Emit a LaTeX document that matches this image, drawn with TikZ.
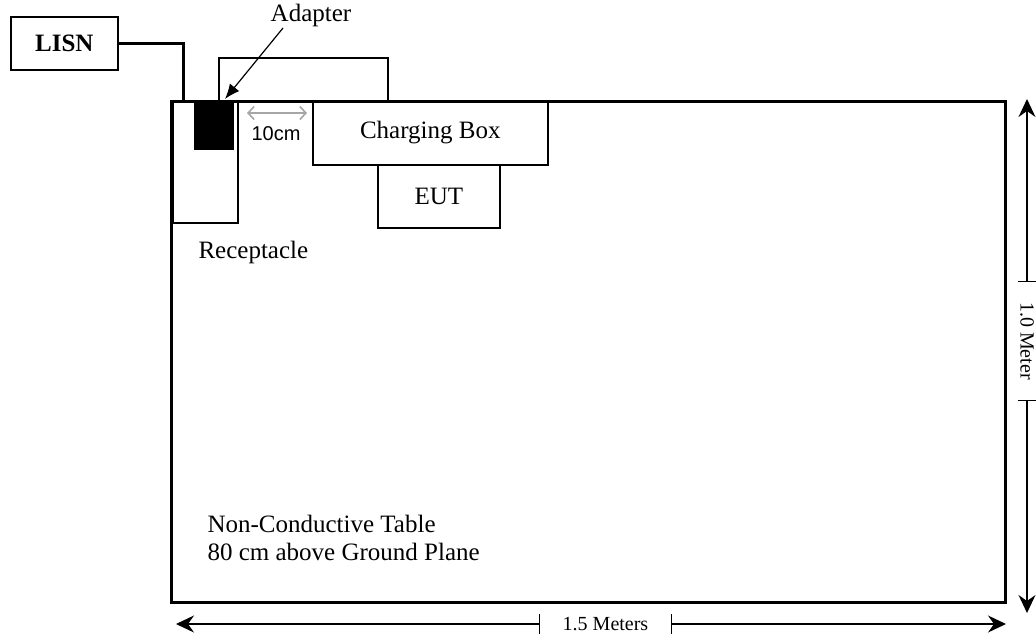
\documentclass[tikz,border=0pt]{standalone}
\usepackage{fontspec}
\setmainfont{Liberation Serif}
\newfontfamily\arialish{Liberation Sans}
\usetikzlibrary{arrows.meta}
\tikzset{
  big/.style={font=\fontsize{25}{28}\selectfont},
  small/.style={font=\fontsize{20}{24}\selectfont},
  box/.style={draw, line width=1.6pt, inner sep=0pt, anchor=north west},
  tablebox/.style={draw, line width=3pt, inner sep=0pt, anchor=north west},
  cable/.style={line width=3pt},
  ptr/.style={line width=1.2pt, -{Latex[length=15pt,width=12pt]}},
  gap/.style={draw=black!35, line width=1.6pt, {Straight Barb[length=6pt,width=13pt]}-{Straight Barb[length=6pt,width=13pt]}},
  dim/.style={line width=1.2pt, -{Stealth[length=18pt,width=17pt,inset=6pt]}},
  tick/.style={line width=1.2pt}
}
\begin{document}
\begin{tikzpicture}[x=1pt,y=-1pt]
\useasboundingbox (0,0) rectangle (1036,640);
% upper outline box above the table
\node[box, minimum width=169pt, minimum height=43pt] (upper) at (218,57) {};
% table
\node[tablebox, minimum width=834pt, minimum height=501pt] (table) at (170,100) {};
% LISN
\node[box, big, minimum width=107pt, minimum height=53pt] (lisn) at (10,16) {\bfseries LISN};
\coordinate (cableend) at (183,100);
\draw[cable] (lisn.east) -| (cableend);
% receptacle and adapter
\node[box, minimum width=65pt, minimum height=122pt] (recept) at (172,100) {};
\node[box, fill=black, minimum width=38pt, minimum height=48pt] (adapter) at (194,100) {};
% charging box and EUT
\node[box, big, minimum width=235pt, minimum height=64pt] (charge) at (312,100) {Charging Box};
\node[box, big, minimum width=122pt, minimum height=63pt] (eut) at (377,164) {EUT};
% labels
\node[big, anchor=base] (adlabel) at (311,21) {Adapter};
\coordinate (adstart) at (283,28);
\coordinate (adtip) at (225,99);
\draw[ptr] (adstart) -- (adtip);
\node[big, anchor=base west] (receptlabel) at (195,258) {Receptacle};
\coordinate (gapL) at (247,113);
\coordinate (gapR) at (307,113);
\draw[gap] (gapL) -- (gapR);
\node[font=\arialish\fontsize{20}{24}\selectfont] (gaplabel) at (276,134) {10cm};
\node[big, anchor=base west] (tabletext1) at (204,532) {Non-Conductive Table};
\node[big, anchor=base west] (tabletext2) at (204,560) {80 cm above Ground Plane};
% horizontal dimension
\node[small, inner sep=0pt, minimum width=131pt, minimum height=20pt] (hlabel) at (605.5,624) {1.5 Meters};
\coordinate (hL) at (176,624);
\coordinate (hR) at (1006,624);
\draw[dim] (hlabel.west) -- (hL);
\draw[dim] (hlabel.east) -- (hR);
\draw[tick] ([yshift=-10pt]hlabel.west) -- ([yshift=10pt]hlabel.west);
\draw[tick] ([yshift=-10pt]hlabel.east) -- ([yshift=10pt]hlabel.east);
% vertical dimension
\node[small, rotate=-90, inner sep=0pt, minimum width=118pt, minimum height=20pt] (vlabel) at (1027,341) {1.0 Meter};
\coordinate (vT) at (1027,99);
\coordinate (vB) at (1027,613);
\draw[dim] (vlabel.west) -- (vT);
\draw[dim] (vlabel.east) -- (vB);
\draw[tick] ([xshift=-9pt]vlabel.west) -- ([xshift=9pt]vlabel.west);
\draw[tick] ([xshift=-9pt]vlabel.east) -- ([xshift=9pt]vlabel.east);
\end{tikzpicture}
\end{document}
